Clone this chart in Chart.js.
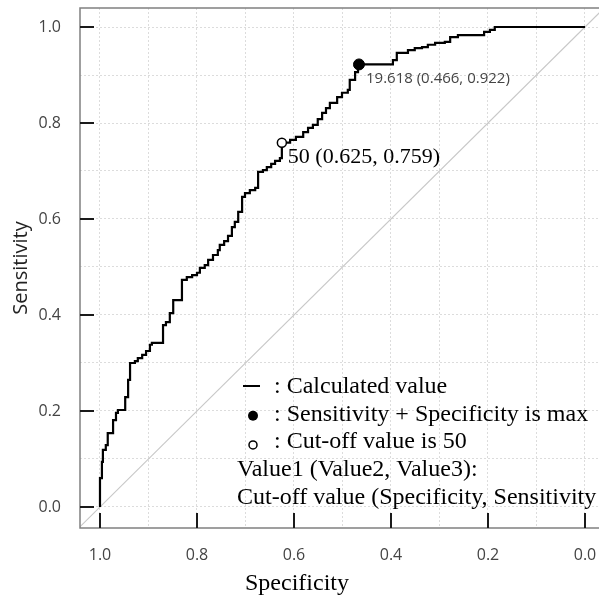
<!DOCTYPE html>
<html>
<head>
<meta charset="utf-8">
<script src="https://cdn.jsdelivr.net/npm/chart.js@4.4.1/dist/chart.umd.min.js"></script>
<style>
  body { margin: 0; background: #fff; }
  canvas { display: block; }
</style>
</head>
<body>
<canvas id="rocChart" width="599" height="598"></canvas>
<script>
// ROC curve (specificity on x, reversed)
const specificity = [1.000, 1.000, 0.996, 0.996, 0.994, 0.994, 0.988, 0.984, 0.984, 0.977,
  0.973, 0.967, 0.963, 0.948, 0.948, 0.942, 0.942, 0.938, 0.938, 0.928,
  0.922, 0.913, 0.905, 0.897, 0.893, 0.870, 0.870, 0.864, 0.856, 0.849,
  0.849, 0.831, 0.831, 0.821, 0.810, 0.800, 0.794, 0.784, 0.777, 0.767,
  0.757, 0.753, 0.744, 0.736, 0.728, 0.722, 0.715, 0.707, 0.701, 0.691,
  0.680, 0.674, 0.674, 0.664, 0.656, 0.647, 0.639, 0.629, 0.625, 0.625,
  0.608, 0.596, 0.581, 0.571, 0.561, 0.551, 0.542, 0.534, 0.526, 0.511,
  0.501, 0.489, 0.485, 0.474, 0.468, 0.466, 0.402, 0.396, 0.388, 0.365,
  0.351, 0.336, 0.324, 0.309, 0.289, 0.278, 0.262, 0.216, 0.208, 0.196,
  0.186, 0.000];
const sensitivity = [0.000, 0.060, 0.060, 0.094, 0.094, 0.119, 0.129, 0.140, 0.154, 0.154,
  0.181, 0.196, 0.202, 0.202, 0.229, 0.233, 0.265, 0.269, 0.300, 0.304,
  0.310, 0.317, 0.325, 0.338, 0.342, 0.342, 0.379, 0.385, 0.404, 0.410,
  0.431, 0.435, 0.473, 0.479, 0.483, 0.488, 0.498, 0.504, 0.515, 0.525,
  0.535, 0.546, 0.554, 0.565, 0.583, 0.594, 0.615, 0.646, 0.654, 0.660,
  0.665, 0.669, 0.698, 0.702, 0.708, 0.715, 0.721, 0.727, 0.731, 0.759,
  0.765, 0.771, 0.781, 0.790, 0.796, 0.808, 0.821, 0.831, 0.842, 0.854,
  0.863, 0.869, 0.890, 0.906, 0.919, 0.922, 0.922, 0.931, 0.946, 0.952,
  0.956, 0.958, 0.963, 0.967, 0.969, 0.979, 0.983, 0.983, 0.990, 0.994,
  1.000, 1.000];

// marked cut-offs: [max Se+Sp, cut-off 50]
const markerCutoffs = ['19.618', '50'];
const markerSpec = [0.466, 0.625];
const markerSens = [0.922, 0.759];

// chance line ends (sens = 1 - spec)
const chanceSpec = [1.1, -0.1];

const gridValues = [0, 0.1, 0.2, 0.3, 0.4, 0.5, 0.6, 0.7, 0.8, 0.9, 1.0];
const labelValues = [0, 0.2, 0.4, 0.6, 0.8, 1.0];

const legendLines = [
  ': Calculated value',
  ': Sensitivity + Specificity is max',
  ': Cut-off value is 50',
  'Value1 (Value2, Value3):',
  'Cut-off value (Specificity, Sensitivity'
];

const SERIF = '"Liberation Serif", "Times New Roman", serif';
const SANS = '"Open Sans", "Liberation Sans", sans-serif';

const curve = specificity.map((s, i) => ({ x: s, y: sensitivity[i] }));
const chance = chanceSpec.map(s => ({ x: s, y: 1 - s }));

const isLabel = v => labelValues.some(l => Math.abs(l - v) < 1e-6);

// keep the plot box where the picture has it
const fixBox = (s, key, size) => {
  s[key] = size;
  s.paddingTop = s.paddingBottom = s.paddingLeft = s.paddingRight = 0;
};

// frame, inward tick marks, annotations and the text legend
const overlay = {
  id: 'overlay',
  afterDraw(chart) {
    const { ctx, chartArea: a, scales: { x, y } } = chart;
    ctx.save();

    ctx.strokeStyle = '#808080';
    ctx.lineWidth = 1.5;
    ctx.beginPath();
    ctx.moveTo(chart.width, a.top);
    ctx.lineTo(a.left, a.top);
    ctx.lineTo(a.left, a.bottom);
    ctx.lineTo(chart.width, a.bottom);
    ctx.stroke();

    ctx.strokeStyle = '#1a1a1a';
    ctx.lineWidth = 2;
    ctx.beginPath();
    labelValues.forEach(v => {
      const py = Math.round(y.getPixelForValue(v));
      ctx.moveTo(a.left, py);
      ctx.lineTo(a.left + 14, py);
      const px = Math.round(x.getPixelForValue(v));
      ctx.moveTo(px, a.bottom);
      ctx.lineTo(px, a.bottom - 15);
    });
    ctx.stroke();

    // point labels
    ctx.textBaseline = 'alphabetic';
    ctx.textAlign = 'left';
    let px = x.getPixelForValue(markerSpec[0]);
    let py = y.getPixelForValue(markerSens[0]);
    ctx.fillStyle = '#444';
    ctx.font = '15px ' + SANS;
    ctx.fillText(`${markerCutoffs[0]} (${markerSpec[0].toFixed(3)}, ${markerSens[0].toFixed(3)})`, px + 7, py + 19);

    px = x.getPixelForValue(markerSpec[1]);
    py = y.getPixelForValue(markerSens[1]);
    ctx.fillStyle = '#000';
    ctx.font = '22px ' + SERIF;
    ctx.fillText(`${markerCutoffs[1]} (${markerSpec[1].toFixed(3)}, ${markerSens[1].toFixed(3)})`, px + 6, py + 20);

    // legend
    const lx = 252, tx = 274, ty0 = 393, dy = 27.7;
    ctx.strokeStyle = '#000';
    ctx.lineWidth = 2;
    ctx.beginPath();
    ctx.moveTo(lx - 9, ty0 - 7);
    ctx.lineTo(lx + 8, ty0 - 7);
    ctx.stroke();

    ctx.fillStyle = '#000';
    ctx.beginPath();
    ctx.arc(lx + 1, ty0 + dy - 5, 5, 0, Math.PI * 2);
    ctx.fill();

    ctx.fillStyle = '#fff';
    ctx.lineWidth = 1.5;
    ctx.beginPath();
    ctx.arc(lx + 1, ty0 + 2 * dy - 3.5, 4, 0, Math.PI * 2);
    ctx.fill();
    ctx.stroke();

    ctx.fillStyle = '#000';
    ctx.font = '24px ' + SERIF;
    legendLines.forEach((t, i) => {
      ctx.fillText(t, i < 3 ? tx : 237, ty0 + i * dy);
    });

    // x axis title
    ctx.textAlign = 'center';
    ctx.fillText('Specificity', 297, 590);

    ctx.restore();
  }
};

new Chart(document.getElementById('rocChart'), {
  type: 'scatter',
  data: {
    datasets: [
      {
        data: [{ x: markerSpec[0], y: markerSens[0] }],
        pointRadius: 5.5,
        pointBackgroundColor: '#000',
        pointBorderColor: '#000',
        pointBorderWidth: 1
      },
      {
        data: [{ x: markerSpec[1], y: markerSens[1] }],
        pointRadius: 4.5,
        pointBackgroundColor: '#fff',
        pointBorderColor: '#000',
        pointBorderWidth: 1.5
      },
      {
        data: curve,
        showLine: true,
        stepped: true,
        borderColor: '#000',
        borderWidth: 2.2,
        pointRadius: 0
      },
      {
        data: chance,
        showLine: true,
        borderColor: '#c8c8c8',
        borderWidth: 1.2,
        pointRadius: 0
      }
    ]
  },
  options: {
    responsive: false,
    animation: false,
    layout: { autoPadding: false, padding: { top: 8, left: 0, right: 0, bottom: 0 } },
    plugins: {
      legend: { display: false },
      tooltip: { enabled: false }
    },
    scales: {
      x: {
        type: 'linear',
        reverse: true,
        min: -0.0289,
        max: 1.0412,
        afterBuildTicks: s => { s.ticks = gridValues.map(v => ({ value: v })); },
        afterFit: s => fixBox(s, 'height', 70),
        grid: { color: '#dcdcdc', lineWidth: 1, drawTicks: false },
        border: { display: false, dash: [2, 2] },
        ticks: {
          autoSkip: false,
          maxRotation: 0,
          padding: 18,
          color: '#444',
          font: { family: SANS, size: 16 },
          callback: v => isLabel(v) ? v.toFixed(1) : ''
        }
      },
      y: {
        type: 'linear',
        min: -0.0438,
        max: 1.0396,
        afterBuildTicks: s => { s.ticks = gridValues.map(v => ({ value: v })); },
        afterFit: s => fixBox(s, 'width', 80),
        grid: { color: '#dcdcdc', lineWidth: 1, drawTicks: false },
        border: { display: false, dash: [2, 2] },
        ticks: {
          autoSkip: false,
          padding: 19,
          color: '#444',
          font: { family: SANS, size: 16 },
          callback: v => isLabel(v) ? v.toFixed(1) : ''
        },
        title: {
          display: true,
          text: 'Sensitivity',
          color: '#222',
          font: { family: SANS, size: 20 },
          padding: { top: 9, bottom: 0 }
        }
      }
    }
  },
  plugins: [overlay]
});
</script>
</body>
</html>
